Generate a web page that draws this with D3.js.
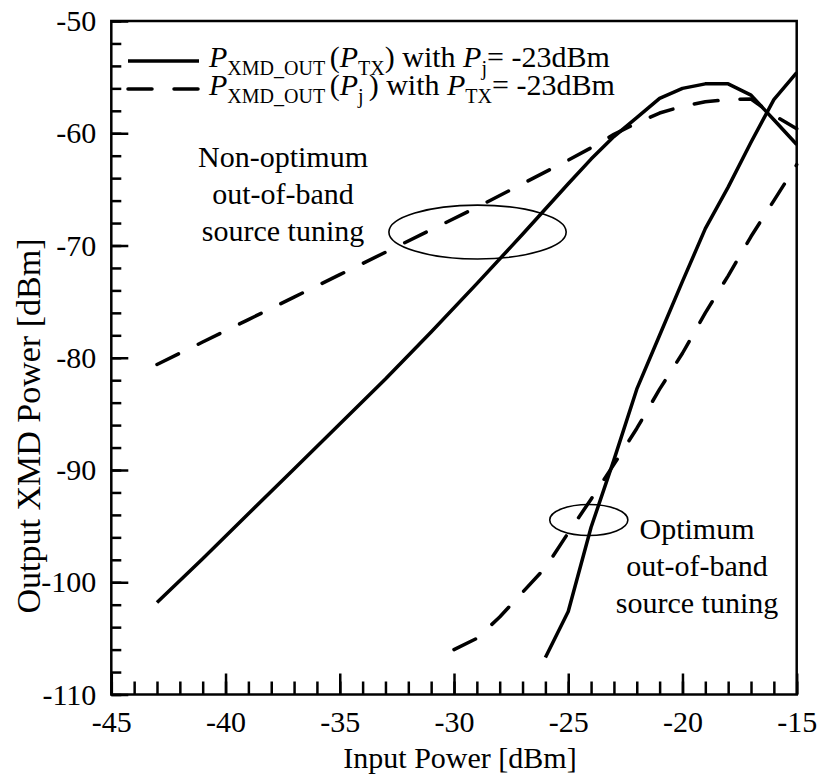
<!DOCTYPE html>
<meta charset="utf-8">
<head>
  <title>XMD power</title>
</head>
<body style="margin:0">
<style>
body { background: #fff; }
text { font-family: "Liberation Serif", "Times New Roman", serif; fill: #000; }
.curve { fill: none; stroke: #000; stroke-width: 3.5; stroke-linejoin: round; }
.dash { stroke-dasharray: 24, 22; stroke-linecap: round; }
</style>
<svg width="820" height="781"></svg>
<script src="https://d3js.org/d3.v7.min.js"></script>
<script>

// non-optimum tuning (both curves share the input grid)
var xNonOpt      = [-43, -41, -39, -37, -35, -33, -31, -29, -27, -25, -24, -23, -22, -21, -20, -19, -18, -17, -16, -15];
var solidNonOpt  = [-101.8, -97.9, -93.9, -89.9, -85.9, -81.9, -77.7, -73.4, -69.0, -64.5, -62.3, -60.3, -58.6, -56.9, -56.0, -55.6, -55.6, -56.6, -58.8, -61.0];
var dashedNonOpt = [-80.6, -78.6, -76.6, -74.6, -72.6, -70.6, -68.6, -66.6, -64.5, -62.4, -61.3, -60.1, -59.1, -58.2, -57.6, -57.2, -57.0, -56.95, -58.4, -59.6];

// optimum tuning
var xOptSolid  = [-26, -25, -24, -23, -22, -21, -20, -19, -18, -17, -16, -15];
var solidOpt   = [-106.7, -102.6, -95.1, -89.1, -82.8, -78.0, -73.2, -68.5, -64.8, -60.8, -57.0, -54.6];
var xOptDashed = [-30, -29, -28, -27, -26, -25, -24, -23, -22, -21, -20, -19, -18, -17, -16, -15];
var dashedOpt  = [-106.0, -105.0, -103.1, -100.9, -98.7, -95.6, -92.6, -89.5, -86.3, -82.8, -79.6, -76.0, -72.7, -69.2, -66.0, -62.8];

var xTicks = [-45, -40, -35, -30, -25, -20, -15];
var yTicks = [-50, -60, -70, -80, -90, -100, -110];

var svg = d3.select("svg");

var x = d3.scaleLinear().domain([-45, -15]).range([111.3, 796.7]);
var y = d3.scaleLinear().domain([-110, -50]).range([694.5, 21]);

// plain hyphen for negatives, like the original
var fmt = function(d) { return (d < 0 ? "-" : "") + Math.abs(d); };

function styleAxis(g) {
  g.attr("font-family", null).attr("font-size", 30);
  g.selectAll("line").attr("stroke", "#000").attr("stroke-width", 2.5);
  g.select(".domain").remove();
}

// minor ticks
svg.append("g")
    .attr("transform", "translate(0," + y(-110) + ")")
    .call(d3.axisBottom(x).tickValues(d3.range(-45, -14, 1)).tickSizeInner(-13).tickSizeOuter(0).tickFormat(""))
    .call(styleAxis);
svg.append("g")
    .attr("transform", "translate(" + x(-45) + ",0)")
    .call(d3.axisLeft(y).tickValues(d3.range(-110, -49, 2)).tickSizeInner(-10).tickSizeOuter(0).tickFormat(""))
    .call(styleAxis);

// major ticks + labels
svg.append("g")
    .attr("transform", "translate(0," + y(-110) + ")")
    .call(d3.axisBottom(x).tickValues(xTicks).tickSizeInner(-21).tickSizeOuter(0).tickPadding(16).tickFormat(fmt))
    .call(styleAxis);
svg.append("g")
    .attr("transform", "translate(" + x(-45) + ",0)")
    .call(d3.axisLeft(y).tickValues(yTicks).tickSizeInner(-17).tickSizeOuter(0).tickPadding(15).tickFormat(fmt))
    .call(styleAxis);

// frame
svg.append("rect")
    .attr("x", x(-45)).attr("y", y(-50))
    .attr("width", x(-15) - x(-45)).attr("height", y(-110) - y(-50))
    .attr("fill", "none").attr("stroke", "#000").attr("stroke-width", 2.5);

// axis titles
svg.append("text")
    .attr("x", 460).attr("y", 768)
    .attr("text-anchor", "middle").attr("font-size", 30)
    .text("Input Power [dBm]");
svg.append("text")
    .attr("transform", "translate(40,426) rotate(-90)")
    .attr("text-anchor", "middle").attr("font-size", 34)
    .text("Output XMD Power [dBm]");

// curves
var line = d3.line()
    .x(function(d) { return x(d[0]); })
    .y(function(d) { return y(d[1]); });

function pairs(xs, ys) { return xs.map(function(v, i) { return [v, ys[i]]; }); }

var plot = svg.append("g");
plot.append("path").attr("class", "curve").attr("d", line(pairs(xNonOpt, solidNonOpt)));
plot.append("path").attr("class", "curve dash").attr("d", line(pairs(xNonOpt, dashedNonOpt)));
plot.append("path").attr("class", "curve").attr("d", line(pairs(xOptSolid, solidOpt)));
plot.append("path").attr("class", "curve dash").attr("d", line(pairs(xOptDashed, dashedOpt)));

// ellipses marking the two groups
plot.append("ellipse")
    .attr("cx", x(-28.97)).attr("cy", y(-68.8))
    .attr("rx", x(-28.97 + 3.88) - x(-28.97)).attr("ry", y(-68.8) - y(-68.8 + 2.4))
    .attr("fill", "none").attr("stroke", "#000").attr("stroke-width", 1.6);
plot.append("ellipse")
    .attr("cx", x(-24.1)).attr("cy", y(-94.45))
    .attr("rx", x(-24.1 + 1.71) - x(-24.1)).attr("ry", y(-94.45) - y(-94.45 + 1.38))
    .attr("fill", "none").attr("stroke", "#000").attr("stroke-width", 1.6);

// annotation text
function block(cx, y0, lines) {
  lines.forEach(function(t, i) {
    svg.append("text")
        .attr("x", cx).attr("y", y0 + i * 37)
        .attr("text-anchor", "middle").attr("font-size", 30)
        .text(t);
  });
}
block(283, 167, ["Non-optimum", "out-of-band", "source tuning"]);
block(697, 539, ["Optimum", "out-of-band", "source tuning"]);

// legend
var legend = [
  { y: 61, dash: false, parts: [["P", "i"], ["XMD_OUT ", "s"], ["(", ""], ["P", "i"], ["TX", "s"], [") with ", ""], ["P", "i"], ["j", "s"], ["= -23dBm", ""]] },
  { y: 89, dash: true,  parts: [["P", "i"], ["XMD_OUT ", "s"], ["(", ""], ["P", "i"], ["j ", "s"], [") with ", ""], ["P", "i"], ["TX", "s"], ["= -23dBm", ""]] }
];

legend.forEach(function(l) {
  svg.append("line")
      .attr("class", l.dash ? "curve dash" : "curve")
      .attr("x1", 128).attr("x2", 199)
      .attr("y1", l.y).attr("y2", l.y);
  var t = svg.append("text")
      .attr("x", 209).attr("y", l.y + 6)
      .attr("font-size", 30)
      .style("white-space", "pre");
  var sub = false;
  l.parts.forEach(function(p) {
    var ts = t.append("tspan").text(p[0]);
    if (p[1] === "i") ts.attr("font-style", "italic");
    if (p[1] === "s") {
      ts.attr("font-size", 20).attr("dy", sub ? 0 : 8);
      sub = true;
    } else if (sub) {
      ts.attr("dy", -8);
      sub = false;
    }
  });
});

</script>
</body>
</html>
